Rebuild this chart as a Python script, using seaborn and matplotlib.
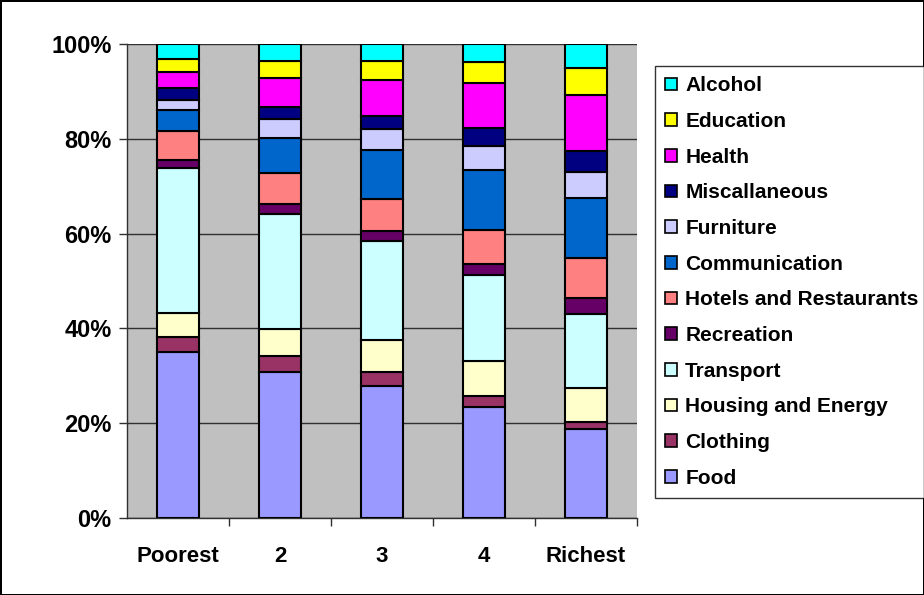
import matplotlib.pyplot as plt
import seaborn as sns
from matplotlib.patches import Patch
from matplotlib.ticker import FixedLocator, FuncFormatter

# spending shares (%) by income quintile
quintiles = ['Poorest', '2', '3', '4', 'Richest']

food = [35.0, 30.9, 27.8, 23.5, 18.8]
clothing = [3.3, 3.3, 3.0, 2.3, 1.5]
housing = [5.1, 5.8, 6.8, 7.4, 7.0]
transport = [30.6, 24.3, 20.9, 18.1, 15.6]
recreation = [1.6, 2.0, 2.1, 2.3, 3.5]
hotels = [6.2, 6.5, 6.7, 7.2, 8.4]
communication = [4.4, 7.4, 10.5, 12.7, 12.5]
furniture = [2.1, 4.1, 4.4, 5.1, 5.6]
misc = [2.5, 2.4, 2.8, 3.7, 4.4]
health = [3.5, 6.3, 7.5, 9.5, 11.8]
education = [2.7, 3.6, 4.1, 4.4, 5.6]
alcohol = [3.2, 3.5, 3.5, 3.9, 5.1]

# bottom to top
series = [
    ('Food', food, '#9999FF'),
    ('Clothing', clothing, '#993366'),
    ('Housing and Energy', housing, '#FFFFCC'),
    ('Transport', transport, '#CCFFFF'),
    ('Recreation', recreation, '#660066'),
    ('Hotels and Restaurants', hotels, '#FF8080'),
    ('Communication', communication, '#0066CC'),
    ('Furniture', furniture, '#CCCCFF'),
    ('Miscallaneous', misc, '#000080'),
    ('Health', health, '#FF00FF'),
    ('Education', education, '#FFFF00'),
    ('Alcohol', alcohol, '#00FFFF'),
]

sns.set_style('ticks')
plt.rcParams['font.family'] = ['Liberation Sans', 'DejaVu Sans']
plt.rcParams['text.color'] = 'black'

fig = plt.figure(figsize=(9.24, 5.95), dpi=100, edgecolor='black', linewidth=2)
ax = fig.add_axes([127 / 924, 1 - 518 / 595, 510 / 924, 474 / 595])
ax.set_facecolor('#C0C0C0')

# 100% stacked -> normalise each column
totals = [sum(s[1][i] for s in series) for i in range(len(quintiles))]
bottom = [0.0] * len(quintiles)
for name, vals, col in series:
    pct = [v / t * 100 for v, t in zip(vals, totals)]
    sns.barplot(x=quintiles, y=pct, bottom=bottom, color=col, width=0.42,
                saturation=1, edgecolor='black', linewidth=1.5, ax=ax, zorder=3)
    bottom = [b + p for b, p in zip(bottom, pct)]

ax.set_ylim(0, 100)
ax.set_xlim(-0.5, 4.5)
ax.set_yticks([0, 20, 40, 60, 80, 100])
ax.yaxis.set_major_formatter(FuncFormatter(lambda v, p: f'{v:.0f}%'))
ax.grid(axis='y', color='#303030', linewidth=1, zorder=1)
ax.set_axisbelow(True)

# category ticks between bars, labels at the centres
ax.xaxis.set_major_locator(FixedLocator([0.5, 1.5, 2.5, 3.5, 4.5]))
ax.xaxis.set_minor_locator(FixedLocator(range(5)))
ax.set_xticklabels([''] * 5)
ax.set_xticklabels(quintiles, minor=True)
ax.tick_params(axis='x', which='major', length=6, width=1, color='#303030')
ax.tick_params(axis='x', which='minor', length=0, pad=20)
ax.tick_params(axis='y', length=6, width=1, color='#303030', pad=5)
for lab in ax.get_xticklabels(minor=True):
    lab.set_fontsize(16)
    lab.set_fontweight('bold')
    lab.set_color('black')
for lab in ax.get_yticklabels():
    lab.set_fontsize(17)
    lab.set_fontweight('bold')
    lab.set_color('black')

for side in ['top', 'right']:
    ax.spines[side].set_visible(False)
for side in ['left', 'bottom']:
    ax.spines[side].set_color('#303030')
    ax.spines[side].set_linewidth(1)
ax.set_xlabel('')
ax.set_ylabel('')

handles = [Patch(facecolor=c, edgecolor='black', linewidth=1.2, label=n)
           for n, v, c in reversed(series)]
leg = fig.legend(handles=handles, loc='upper left',
                 bbox_to_anchor=(655 / 924, 1 - 66 / 595),
                 frameon=True, fancybox=False, edgecolor='black',
                 prop={'weight': 'bold', 'size': 15},
                 handlelength=0.55, handleheight=0.55, handletextpad=0.4,
                 labelspacing=0.8, borderpad=0.5, borderaxespad=0)
leg.get_frame().set_linewidth(1)

fig.savefig('out.png', dpi=100)
